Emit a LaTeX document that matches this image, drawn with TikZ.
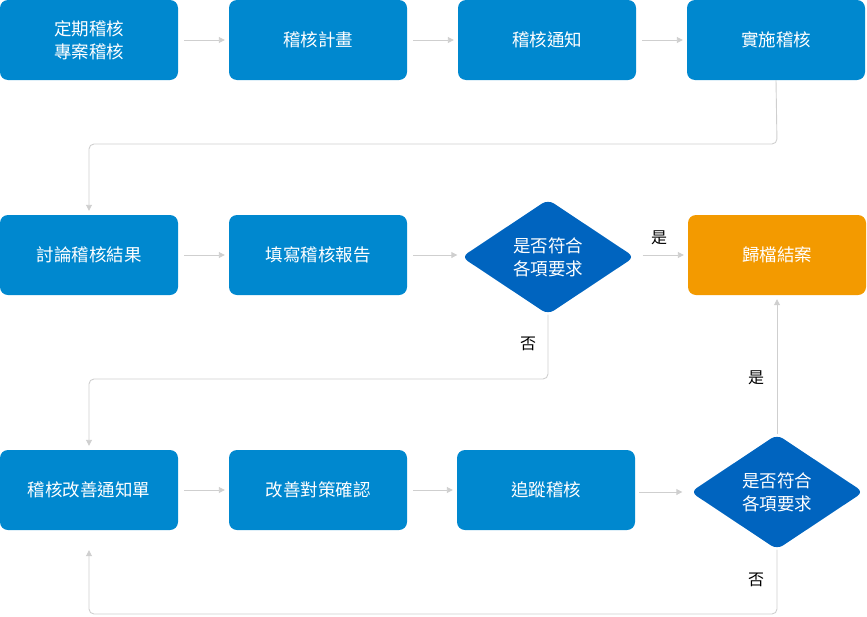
\documentclass[tikz,border=0pt]{standalone}
\usepackage{fontspec}
\setmainfont{Noto Sans CJK TC}
\usetikzlibrary{shapes.geometric,arrows.meta}
\definecolor{boxblue}{HTML}{0088CF}
\definecolor{diablue}{HTML}{0064BF}
\definecolor{orangebox}{HTML}{F39A00}
\definecolor{linegray}{HTML}{CFCFCF}
\tikzset{
  x=1pt,y=-1pt,
  stepbox/.style={rectangle,rounded corners=8pt,fill=boxblue,text=white,
    minimum width=178pt,minimum height=80pt,inner sep=0pt,align=center,
    font=\fontsize{17.5}{23}\selectfont},
  endbox/.style={stepbox,fill=orangebox},
  decide/.style={diamond,rounded corners=7pt,fill=diablue,text=white,
    minimum width=173pt,minimum height=115pt,inner sep=0pt,align=center,
    font=\fontsize{17.5}{23}\selectfont},
  conn/.style={draw=linegray,line width=0.9pt,-{Triangle[length=6pt,width=6pt]},
    rounded corners=5pt},
  hconn/.style={conn,shorten <=6pt,shorten >=4pt},
  lbl/.style={font=\fontsize{16}{18}\selectfont,text=black,inner sep=0pt}
}
\begin{document}
\begin{tikzpicture}
\useasboundingbox (0,0) rectangle (867,616);
% row 1
\node[stepbox] (a1) at (89,40) {定期稽核\\專案稽核};
\node[stepbox] (a2) at (318,40) {稽核計畫};
\node[stepbox] (a3) at (547,40) {稽核通知};
\node[stepbox] (a4) at (776,40) {實施稽核};
% row 2
\node[stepbox] (b1) at (89,255) {討論稽核結果};
\node[stepbox] (b2) at (318,255) {填寫稽核報告};
\node[decide] (d1) at (548,257) {是否符合\\各項要求};
\node[endbox] (b4) at (777,255) {歸檔結案};
% row 3
\node[stepbox] (c1) at (89,490) {稽核改善通知單};
\node[stepbox] (c2) at (318,490) {改善對策確認};
\node[stepbox] (c3) at (546,490) {追蹤稽核};
\node[decide] (d2) at (777,492) {是否符合\\各項要求};
% corner coordinates
\coordinate (k1) at (777,144);
\coordinate (k2) at (548,379);
\coordinate (k3) at (777,614);
% connectors
\draw[hconn] (a1) -- (a2);
\draw[hconn] (a2) -- (a3);
\draw[hconn] (a3) -- (a4);
\draw[conn,shorten >=4pt] (a4.south) -- (k1) -| (b1.north);
\draw[hconn] (b1) -- (b2);
\draw[hconn] (b2) -- (d1.west |- b2.east);
\draw[conn,shorten <=8pt,shorten >=4pt] (d1.east |- b4.west) -- (b4.west);
\draw[conn,shorten >=4pt] (d1.south) -- (k2) -| (c1.north);
\draw[hconn] (c1) -- (c2);
\draw[hconn] (c2) -- (c3);
\draw[conn,shorten <=4pt,shorten >=8pt] (c3.east |- d2.west) -- (d2.west);
\draw[conn,shorten >=4pt] (d2.north) -- (b4.south);
\draw[conn,shorten >=20pt] (d2.south) -- (k3) -| (c1.south);
% labels
\node[lbl] (y1) at (659,238) {是};
\node[lbl] (n1) at (528,344) {否};
\node[lbl] (y2) at (756,378) {是};
\node[lbl] (n2) at (756,580) {否};
\end{tikzpicture}
\end{document}
